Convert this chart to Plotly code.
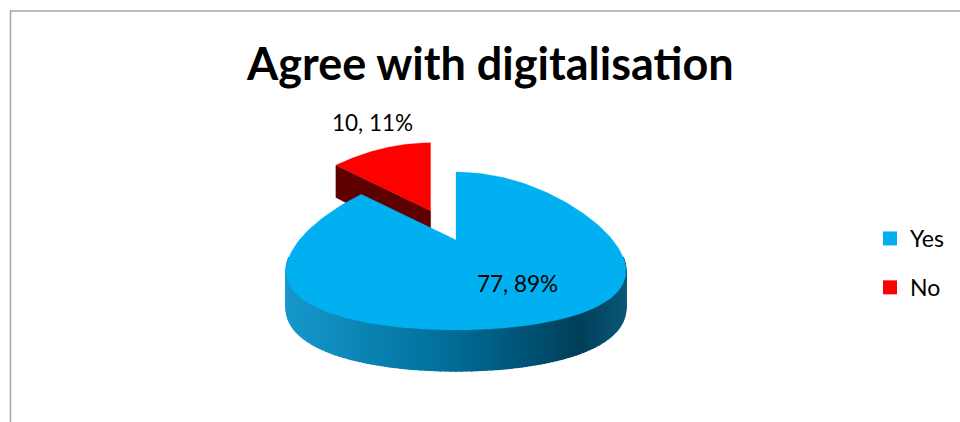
import math
import plotly.graph_objects as go

# ---- data -------------------------------------------------------------
labels = ["Yes", "No"]
counts = [77, 10]
top_colors = ["#00b0f0", "#ff0000"]
explode = [0.0, 0.47]
title_text = "Agree with digitalisation"

# ---- 3-D pie geometry (pixel space of a 960x422 canvas) ----------------
CX, CY = 456, 240          # projected centre of the pie top
RX = 167                   # horizontal radius
PERSP = 0.19               # far side narrowing
W, H = 960, 422


def top_point(theta, r=1.0):
    """Point on the top face; theta in degrees clockwise from 12 o'clock."""
    t = math.radians(theta)
    s, c = math.sin(t), math.cos(t)
    x = CX + RX * r * s * (1 - PERSP * r * c)
    y = CY + r * (17 - 79 * c - 6 * c * c)
    return x, y


def depth(theta, r=1.0):
    c = math.cos(math.radians(theta))
    return 36 - 5 * r * c


def lerp_color(stops, f):
    f = min(max(f, 0), 1)
    for (f0, c0), (f1, c1) in zip(stops, stops[1:]):
        if f <= f1:
            u = (f - f0) / (f1 - f0) if f1 > f0 else 0
            a = [int(c0[i:i + 2], 16) for i in (1, 3, 5)]
            b = [int(c1[i:i + 2], 16) for i in (1, 3, 5)]
            return "#%02x%02x%02x" % tuple(round(a[k] + (b[k] - a[k]) * u) for k in range(3))
    return stops[-1][1]


total = sum(counts)
angles = []
acc = 0.0
for v in counts:
    a0 = acc / total * 360
    acc += v
    angles.append((a0, acc / total * 360))

fig = go.Figure()


def poly(xs, ys, color, line_w=0.0):
    fig.add_trace(go.Scatter(
        x=xs + [xs[0]], y=ys + [ys[0]], mode="lines", fill="toself",
        fillcolor=color, line=dict(color=color, width=line_w),
        hoverinfo="skip", showlegend=False))


def arc(a0, a1, n):
    return [a0 + (a1 - a0) * i / n for i in range(n + 1)]


# exploded slices first (they sit behind the main slice)
order = sorted(range(len(counts)), key=lambda i: -explode[i])
side_dark = {1: "#5e0000"}
side_stops = [(0.0, "#1698cd"), (0.5, "#006c96"), (0.86, "#003f5a"), (1.0, "#0b5878")]

for i in order:
    a0, a1 = angles[i]
    mid = (a0 + a1) / 2
    mx, my = top_point(mid, explode[i])
    ox, oy = mx - CX, my - CY
    apex = (CX + ox, CY + oy)

    if explode[i] > 0:
        # radial cut face at the start angle
        cx_, cy_ = top_point(a0)
        cx_, cy_ = cx_ + ox, cy_ + oy
        poly([apex[0], cx_, cx_, apex[0]],
             [apex[1], cy_, cy_ + depth(a0), apex[1] + depth(0, 0)],
             side_dark[i], 0.5)
    else:
        # curved outer wall facing the viewer, shaded left to right
        lo, hi = max(a0, 90), min(a1, 270)
        steps = arc(lo, hi, 120)
        xs_all = [top_point(t)[0] for t in steps]
        xmin, xmax = min(xs_all), max(xs_all)
        for t0, t1 in zip(steps, steps[1:]):
            p0, p1 = top_point(t0), top_point(t1)
            xm = (p0[0] + p1[0]) / 2
            col = lerp_color(side_stops, (xm - xmin) / (xmax - xmin))
            poly([p0[0] + ox, p1[0] + ox, p1[0] + ox, p0[0] + ox],
                 [p0[1] + oy, p1[1] + oy, p1[1] + oy + depth(t1), p0[1] + oy + depth(t0)],
                 col, 1.4)

    pts = [top_point(t) for t in arc(a0, a1, 200)]
    poly([apex[0]] + [p[0] + ox for p in pts],
         [apex[1]] + [p[1] + oy for p in pts], top_colors[i], 0.3)

# legend entries
for lab, col in zip(labels, top_colors):
    fig.add_trace(go.Scatter(
        x=[None], y=[None], mode="markers", name=lab, legendgroup=lab,
        marker=dict(symbol="square", size=14, color=col)))

# data labels: "count, percent"
label_pos = [(517, 283), (372, 122.5)]
for v, (lx, ly) in zip(counts, label_pos):
    fig.add_annotation(x=lx, y=ly, xref="x", yref="y", showarrow=False,
                       text=f"{v}, {round(100 * v / total)}%",
                       font=dict(family="Lato", size=22.5, color="#000000"),
                       xanchor="center", yanchor="middle")

fig.add_annotation(x=490, y=63, xref="x", yref="y", showarrow=False,
                   text=title_text,
                   font=dict(family="Lato", size=45, color="#000000", weight="bold"),
                   xanchor="center", yanchor="middle")

# chart-area frame (left and top edges)
fig.add_shape(type="path", path="M 10.5 422 L 10.5 11 L 960 11", xref="x", yref="y",
              line=dict(color="#a6a6a6", width=1.5))

fig.update_layout(
    width=W, height=H,
    margin=dict(l=0, r=0, t=0, b=0),
    paper_bgcolor="white", plot_bgcolor="white",
    xaxis=dict(range=[0, W], visible=False, fixedrange=True),
    yaxis=dict(range=[H, 0], visible=False, fixedrange=True),
    showlegend=True,
    legend=dict(x=870 / W, y=1 - 217 / H, xanchor="left", yanchor="top",
                font=dict(family="Lato", size=23, color="#000000"),
                tracegroupgap=16, bgcolor="rgba(0,0,0,0)", itemclick=False),
)

fig.write_html("out.html")
